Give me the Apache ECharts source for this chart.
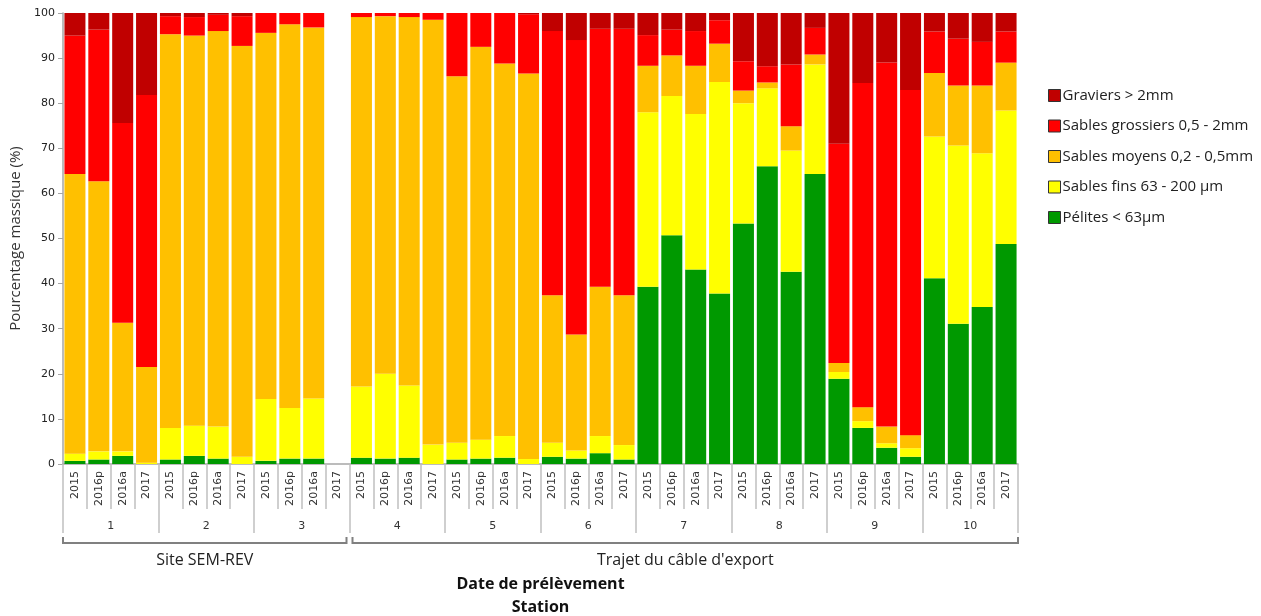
<!DOCTYPE html>
<html lang="fr">
<head>
    <meta charset="UTF-8">
    <title>Granulométrie</title>
    <script src="https://cdn.jsdelivr.net/npm/echarts@6/dist/echarts.min.js"></script>
    <style>
        body { margin: 0; padding: 0; background: #fff; }
        #chart { width: 1261px; height: 616px; }
    </style>
</head>
<body>
    <div id="chart"></div>
    <script>
        // dates de prélèvement (4 par station)
        const dates = ['2015', '2016p', '2016a', '2017'];
        const stations = ['1', '2', '3', '4', '5', '6', '7', '8', '9', '10'];
        // regroupement des stations
        const groupNames = ['Site SEM-REV', "Trajet du câble d'export"];
        const groupSizes = [3, 7];

        const seriesNames = ['Pélites < 63µm', 'Sables fins 63 - 200 µm', 'Sables moyens 0,2 - 0,5mm', 'Sables grossiers 0,5 - 2mm', 'Graviers > 2mm'];
        const seriesColors = ['#009900', '#FFFF00', '#FFC000', '#FF0000', '#C00000'];

        // pourcentages massiques, station par station (2015, 2016p, 2016a, 2017)
        const pelites = [
            0.7, 1.0, 1.8, 0.0,
            1.0, 1.8, 1.2, 0.0,
            0.7, 1.2, 1.2, null,
            1.4, 1.2, 1.4, 0.0,
            1.0, 1.2, 1.4, 0.0,
            1.6, 1.2, 2.4, 1.0,
            39.3, 50.7, 43.1, 37.8,
            53.3, 66.0, 42.6, 64.3,
            18.9, 8.0, 3.6, 1.6,
            41.2, 31.1, 34.8, 48.8
        ];
        const sablesFins = [
            1.6, 1.8, 1.0, 0.3,
            7.0, 6.7, 7.1, 1.6,
            13.7, 11.2, 13.3, null,
            15.8, 18.8, 16.0, 4.3,
            3.7, 4.2, 4.8, 1.1,
            3.1, 1.8, 3.8, 3.2,
            38.7, 30.9, 34.5, 46.9,
            26.7, 17.3, 26.9, 24.3,
            1.5, 1.5, 1.0, 1.9,
            31.4, 39.5, 34.1, 29.6
        ];
        const sablesMoyens = [
            62.0, 59.9, 28.5, 21.2,
            87.3, 86.5, 87.7, 91.1,
            81.2, 85.1, 82.3, null,
            81.9, 79.3, 81.7, 94.2,
            81.3, 87.1, 82.6, 85.5,
            32.7, 25.7, 33.1, 33.2,
            10.3, 9.0, 10.7, 8.5,
            2.8, 1.3, 5.4, 2.2,
            2.0, 3.1, 3.7, 2.9,
            14.1, 13.3, 15.0, 10.6
        ];
        const sablesGrossiers = [
            30.7, 33.6, 44.3, 60.3,
            4.0, 4.1, 3.6, 6.6,
            4.4, 2.5, 3.2, null,
            0.9, 0.7, 0.9, 1.5,
            14.0, 7.5, 11.2, 13.1,
            58.6, 65.3, 57.2, 59.1,
            6.8, 5.7, 7.7, 5.2,
            6.5, 3.6, 13.7, 5.9,
            48.6, 71.9, 80.7, 76.5,
            9.2, 10.4, 9.7, 6.9
        ];
        const graviers = [
            5.0, 3.7, 24.4, 18.2,
            0.7, 0.9, 0.4, 0.7,
            0.0, 0.0, 0.0, null,
            0.0, 0.0, 0.0, 0.0,
            0.0, 0.0, 0.0, 0.3,
            4.0, 6.0, 3.5, 3.5,
            4.9, 3.7, 4.0, 1.6,
            10.7, 11.8, 11.4, 3.3,
            29.0, 15.5, 11.0, 17.1,
            4.1, 5.7, 6.4, 4.1
        ];
        const seriesData = [pelites, sablesFins, sablesMoyens, sablesGrossiers, graviers];

        const yearLabels = [];
        stations.forEach(() => dates.forEach(d => yearLabels.push(d)));

        const axisGray = '#a6a6a6';
        const chart = echarts.init(document.getElementById('chart'));

        const option = {
            animation: false,
            grid: { left: 63, right: 243, top: 13, bottom: 152 },
            legend: {
                orient: 'vertical',
                left: 1043,
                top: 83,
                itemWidth: 12,
                itemHeight: 12,
                itemGap: 15.5,
                icon: 'rect',
                data: seriesNames.slice().reverse(),
                itemStyle: { borderColor: '#333', borderWidth: 1 },
                textStyle: { fontFamily: 'Open Sans', fontSize: 15, color: '#222', padding: [0, 0, 0, -3] }
            },
            xAxis: [
                {
                    type: 'category',
                    data: yearLabels,
                    position: 'bottom',
                    axisLine: { lineStyle: { color: axisGray, width: 1.5 } },
                    axisTick: { show: true, interval: 0, length: 45, lineStyle: { color: '#c0c0c0', width: 1.5 } },
                    axisLabel: {
                        interval: 0, rotate: 90, margin: 7,
                        fontFamily: 'DejaVu Sans', fontSize: 11, color: '#333'
                    }
                },
                {
                    type: 'category',
                    data: stations,
                    position: 'bottom',
                    axisLine: { show: false },
                    axisTick: { show: true, interval: 0, length: 69, lineStyle: { color: '#c0c0c0', width: 1.5 } },
                    axisLabel: {
                        interval: 0, margin: 57,
                        fontFamily: 'DejaVu Sans', fontSize: 11, color: '#333'
                    }
                }
            ],
            yAxis: {
                type: 'value',
                min: 0,
                max: 100,
                interval: 10,
                name: 'Pourcentage massique (%)',
                nameLocation: 'middle',
                nameGap: 37,
                nameTextStyle: { fontFamily: 'Open Sans', fontSize: 15, color: '#333' },
                axisLine: { show: true, lineStyle: { color: axisGray, width: 1.5 } },
                axisTick: { show: true, length: 5, lineStyle: { color: axisGray } },
                splitLine: { show: false },
                axisLabel: { fontFamily: 'DejaVu Sans', fontSize: 11, color: '#222', margin: 8 }
            },
            series: seriesNames.map((name, i) => ({
                name: name,
                type: 'bar',
                stack: 'total',
                xAxisIndex: 0,
                barCategoryGap: '12%',
                itemStyle: { color: seriesColors[i] },
                emphasis: { disabled: true },
                data: seriesData[i]
            }))
        };

        chart.setOption(option);

        // accolades des groupes de stations + titres d'axe, placés à partir de l'axe
        function groupGraphics() {
            const x0 = chart.convertToPixel({ xAxisIndex: 0 }, 0);
            const x1 = chart.convertToPixel({ xAxisIndex: 0 }, 1);
            const half = (x1 - x0) / 2;
            const baseY = chart.convertToPixel({ yAxisIndex: 0 }, 0);
            const lineY = baseY + 79;
            const elements = [];
            let start = 0;
            groupNames.forEach((g, k) => {
                const first = start * dates.length;
                const last = (start + groupSizes[k]) * dates.length - 1;
                let left = chart.convertToPixel({ xAxisIndex: 0 }, first) - half;
                let right = chart.convertToPixel({ xAxisIndex: 0 }, last) + half;
                if (k > 0) left += 3;
                if (k < groupNames.length - 1) right -= 3;
                elements.push({
                    type: 'polyline',
                    silent: true,
                    shape: { points: [[left, lineY - 6], [left, lineY], [right, lineY], [right, lineY - 6]] },
                    style: { stroke: '#808080', lineWidth: 2, fill: null }
                });
                elements.push({
                    type: 'text',
                    silent: true,
                    x: (left + right) / 2,
                    y: lineY + 17,
                    style: {
                        text: g, fontFamily: 'Open Sans', fontSize: 16, fill: '#222',
                        align: 'center', verticalAlign: 'middle'
                    }
                });
                start += groupSizes[k];
            });
            const mid = (chart.convertToPixel({ xAxisIndex: 0 }, 0) - half +
                chart.convertToPixel({ xAxisIndex: 0 }, yearLabels.length - 1) + half) / 2;
            ['Date de prélèvement', 'Station'].forEach((t, k) => {
                elements.push({
                    type: 'text',
                    silent: true,
                    x: mid,
                    y: lineY + 41 + k * 23,
                    style: {
                        text: t, fontFamily: 'Open Sans', fontSize: 16, fontWeight: 'bold', fill: '#111',
                        align: 'center', verticalAlign: 'middle'
                    }
                });
            });
            return elements;
        }

        chart.setOption({ graphic: groupGraphics() });
    </script>
</body>
</html>
